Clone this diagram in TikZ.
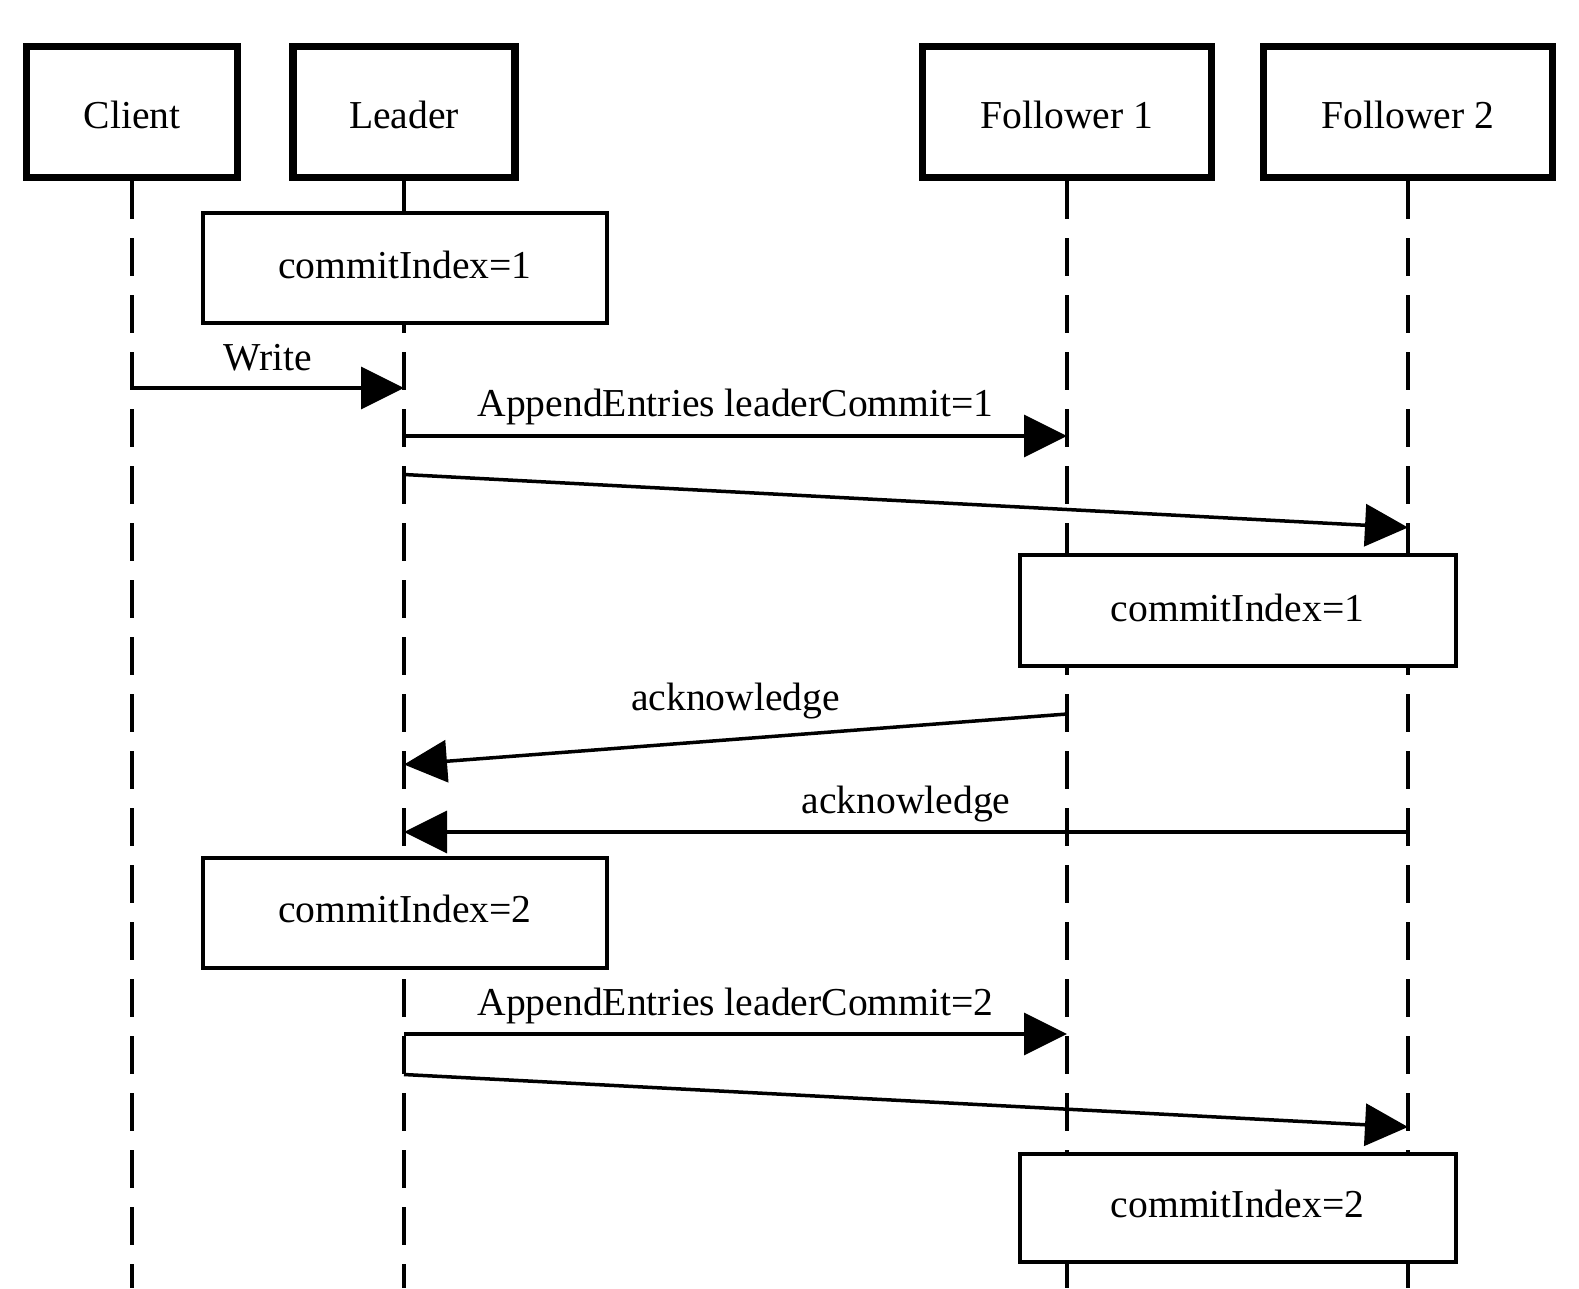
\documentclass[tikz,border=0pt]{standalone}
\usepackage{fontspec}
\setmainfont{Liberation Serif}
\usetikzlibrary{arrows.meta}
\begin{document}
\begin{tikzpicture}[x=1pt,y=-1pt,
  font=\fontsize{39.6}{47}\selectfont,
  actor/.style={draw, line width=7.5pt, fill=white, inner sep=0pt, minimum height=131pt, text height=33pt, text depth=0pt},
  notebox/.style={draw, line width=4pt, fill=white, inner sep=0pt, text height=27pt, text depth=6.5pt},
  life/.style={line width=3.5pt, dash pattern=on 38pt off 19pt},
  msg/.style={line width=3.5pt, -{Triangle[length=43pt,width=42pt]}},
  lbl/.style={anchor=base, inner sep=0pt}]
\useasboundingbox (0,0) rectangle (1579,1288);

% actors
\node[actor, minimum width=211pt] (client) at (132,112) {Client};
\node[actor, minimum width=222pt] (leader) at (404,112) {Leader};
\node[actor, minimum width=289pt] (f1) at (1067,112) {Follower 1};
\node[actor, minimum width=289pt] (f2) at (1408,112) {Follower 2};

% lifelines
\coordinate (cEnd) at (132,1288);
\coordinate (lEnd) at (404,1288);
\coordinate (f1End) at (1067,1288);
\coordinate (f2End) at (1408,1288);
\draw[life] (client.south) -- (cEnd);
\draw[life] (leader.south) -- (lEnd);
\draw[life] (f1.south) -- (f1End);
\draw[life] (f2.south) -- (f2End);

% state notes
\node[notebox, minimum width=404pt, minimum height=110pt] (n1) at (405,268) {commitIndex=1};
\node[notebox, minimum width=436pt, minimum height=111pt] (n2) at (1237.5,610.8) {commitIndex=1};
\node[notebox, minimum width=404pt, minimum height=110pt] (n3) at (405,912.5) {commitIndex=2};
\node[notebox, minimum width=436pt, minimum height=108pt] (n4) at (1237.5,1207.5) {commitIndex=2};

% message end points
\coordinate (m1a) at (132,388);   \coordinate (m1b) at (404,388);
\coordinate (m2a) at (404,436);   \coordinate (m2b) at (1067,436);
\coordinate (m3a) at (404,474.5); \coordinate (m3b) at (1408,527.5);
\coordinate (m4a) at (1067,714);  \coordinate (m4b) at (404,764.5);
\coordinate (m5a) at (1408,832);  \coordinate (m5b) at (404,832);
\coordinate (m6a) at (404,1034);  \coordinate (m6b) at (1067,1034);
\coordinate (m7a) at (404,1074.5);\coordinate (m7b) at (1408,1127);

\draw[msg] (m1a) -- (m1b);
\draw[msg] (m2a) -- (m2b);
\draw[msg] (m3a) -- (m3b);
\draw[msg] (m4a) -- (m4b);
\draw[msg] (m5a) -- (m5b);
\draw[msg] (m6a) -- (m6b);
\draw[msg] (m7a) -- (m7b);

% labels
\node[lbl] (l1) at (268,370) {Write};
\node[lbl] (l2) at (735.5,416) {AppendEntries leaderCommit=1};
\node[lbl] (l4) at (735.5,710) {acknowledge};
\node[lbl] (l5) at (906,813) {acknowledge};
\node[lbl] (l6) at (735.5,1015) {AppendEntries leaderCommit=2};
\end{tikzpicture}
\end{document}
